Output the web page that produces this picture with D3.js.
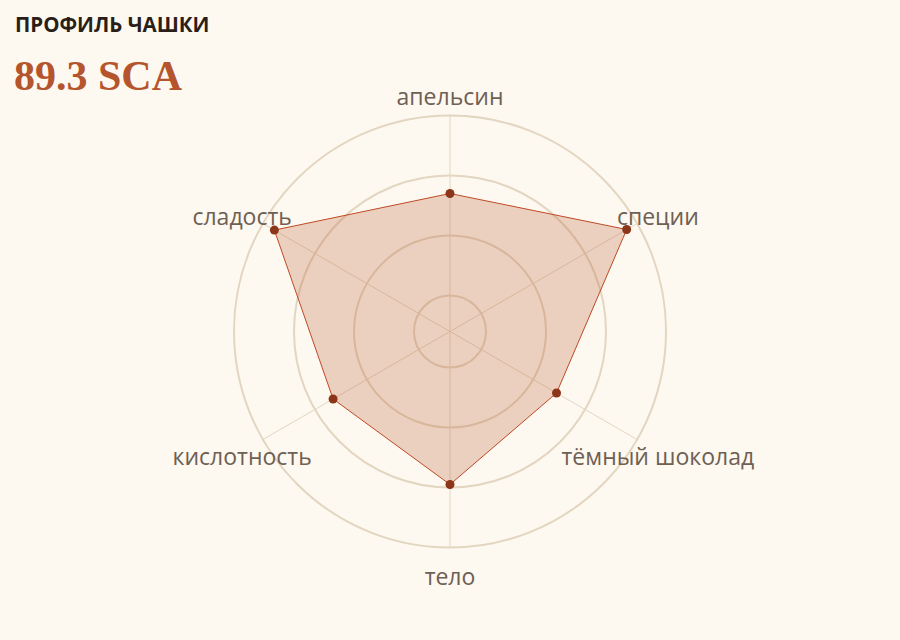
<!DOCTYPE html>
<html>
<head>
<meta charset="utf-8">
<script src="https://cdn.jsdelivr.net/npm/d3@7"></script>
<style>
  body { margin: 0; background: #fdf8f0; }
  #chart { width: 900px; height: 640px; }
</style>
</head>
<body>
<div id="chart"></div>
<script>

const axes = ["апельсин", "специи", "тёмный шоколад", "тело", "кислотность", "сладость"];
const scores = [8.7, 9.8, 8.45, 8.95, 8.65, 9.78];
const rings = [7, 8, 9, 10];
const title = "ПРОФИЛЬ ЧАШКИ";
const total = "89.3 SCA";

function drawRadar(rootDOM){

	const W = 900;
	const H = 640;
	const cx = 450, cy = 331.5;
	const R = 216;

	const r = d3.scaleLinear()
		.domain([6.4, 10])
		.range([0, R]);

	const angle = d3.scaleBand()
		.domain(axes)
		.range([0, 2 * Math.PI]);

	const svg = d3.select(rootDOM)
		.append("svg")
		.attr("width", W)
		.attr("height", H);

	svg.append("rect")
		.attr("width", W)
		.attr("height", H)
		.attr("fill", "#fdf8f0");

	svg.append("text")
		.attr("x", 15)
		.attr("y", 31.5)
		.style("font-family", "'Open Sans', sans-serif")
		.style("font-weight", 700)
		.style("font-size", "20.5px")
		.style("fill", "#2a1f18")
		.text(title);

	svg.append("text")
		.attr("x", 14)
		.attr("y", 90)
		.style("font-family", "'Liberation Serif', serif")
		.style("font-weight", 700)
		.style("font-size", "42px")
		.style("fill", "#b4552d")
		.text(total);

	const g = svg.append("g")
		.attr("transform", `translate(${cx},${cy})`);

	// grid rings
	g.selectAll(".ring")
		.data(rings)
		.enter()
		.append("circle")
		.attr("class", "ring")
		.attr("r", d => r(d))
		.attr("fill", "none")
		.attr("stroke", "#e3d6c1")
		.attr("stroke-width", 2);

	// spokes
	g.selectAll(".spoke")
		.data(axes)
		.enter()
		.append("line")
		.attr("class", "spoke")
		.attr("x1", 0)
		.attr("y1", 0)
		.attr("x2", d => d3.pointRadial(angle(d), R)[0])
		.attr("y2", d => d3.pointRadial(angle(d), R)[1])
		.attr("stroke", "#e3d6c1")
		.attr("stroke-width", 1);

	const line = d3.lineRadial()
		.angle((d, i) => angle(axes[i]))
		.radius(d => r(d))
		.curve(d3.curveLinearClosed);

	g.append("path")
		.datum(scores)
		.attr("d", line)
		.attr("fill", "#b9582c")
		.attr("fill-opacity", 0.25)
		.attr("stroke", "#bf4a26")
		.attr("stroke-width", 1);

	g.selectAll(".dot")
		.data(scores)
		.enter()
		.append("circle")
		.attr("class", "dot")
		.attr("r", 4.5)
		.attr("cx", (d, i) => d3.pointRadial(angle(axes[i]), r(d))[0])
		.attr("cy", (d, i) => d3.pointRadial(angle(axes[i]), r(d))[1])
		.attr("fill", "#8b3519");

	g.selectAll(".label")
		.data(axes)
		.enter()
		.append("text")
		.attr("class", "label")
		.attr("x", d => d3.pointRadial(angle(d), R + 24)[0])
		.attr("y", d => d3.pointRadial(angle(d), R + 24)[1])
		.attr("dy", "0.6em")
		.attr("text-anchor", "middle")
		.style("font-family", "'Open Sans', sans-serif")
		.style("font-size", "23px")
		.style("fill", "#6e6053")
		.text(d => d);
}

drawRadar(document.getElementById("chart"));
</script>
</body>
</html>
